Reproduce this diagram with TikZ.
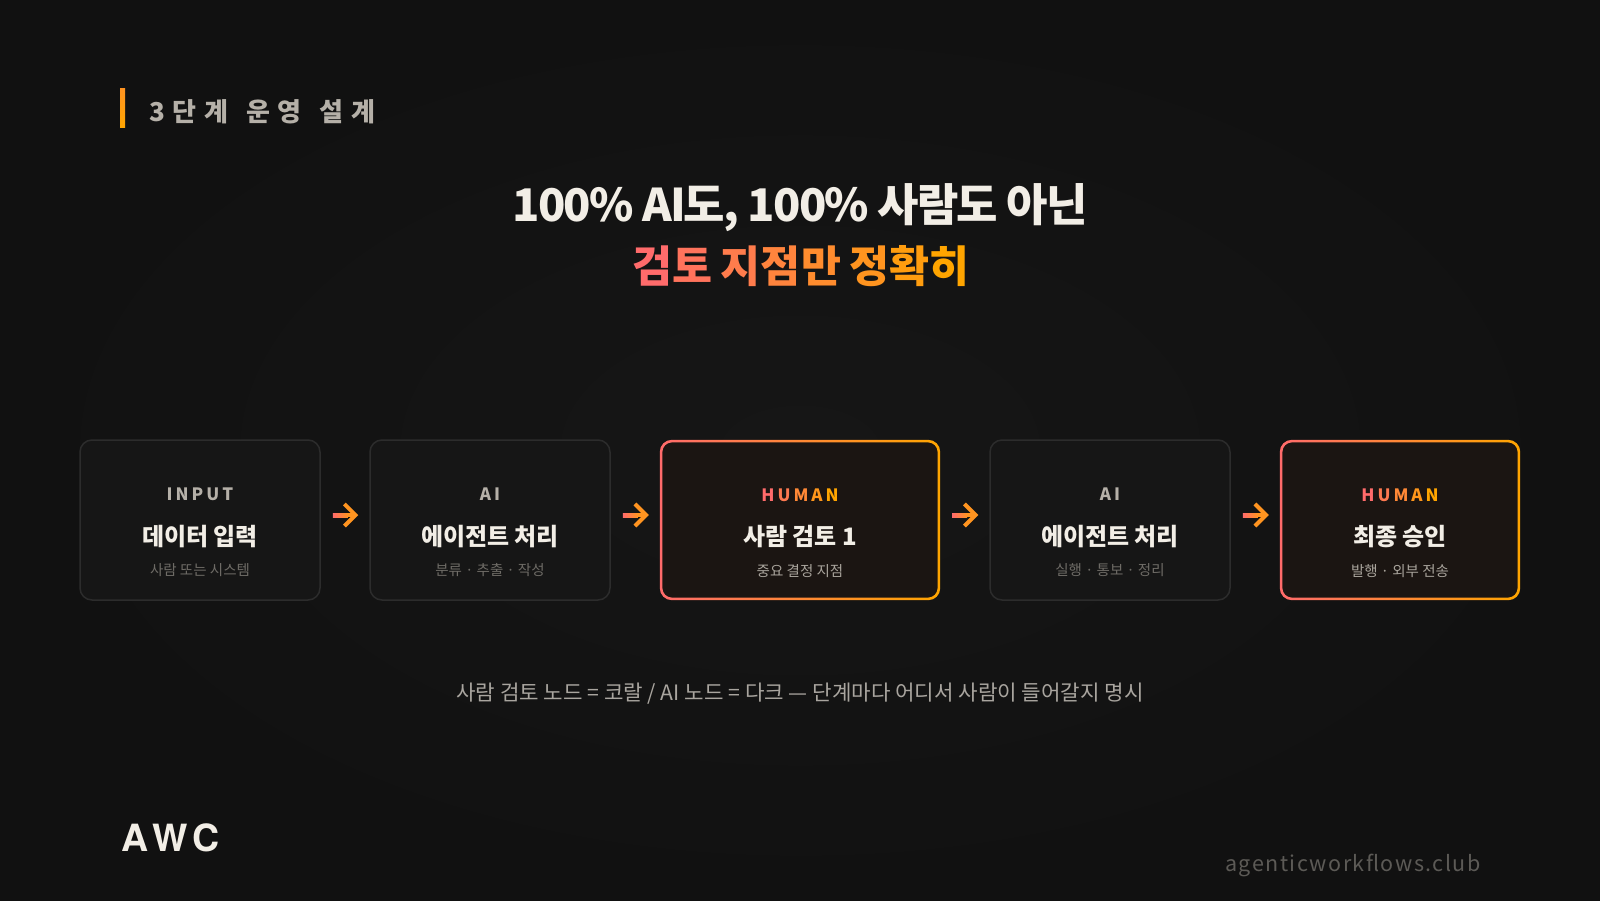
\documentclass[tikz,border=0pt]{standalone}
\usepackage{fontspec}
\setmainfont{Noto Sans CJK KR}
\newfontfamily\kr{Noto Sans CJK KR}
\newfontfamily\krtag[LetterSpace=30]{Noto Sans CJK KR}
\newfontfamily\krlab[LetterSpace=18]{Noto Sans CJK KR}
\newfontfamily\krtitle[LetterSpace=-4]{Noto Sans CJK KR}
\newfontfamily\krurl[LetterSpace=7]{Noto Sans CJK KR}
\newfontfamily\heros[LetterSpace=15]{TeX Gyre Heros}
\usetikzlibrary{arrows.meta,calc}
\definecolor{bg}{HTML}{111111}
\definecolor{bglight}{HTML}{161616}
\definecolor{coral}{HTML}{FF6B6B}
\definecolor{amber}{HTML}{FFA500}
\definecolor{ink}{HTML}{F2EEE6}
\definecolor{taggray}{HTML}{B5B0A8}
\definecolor{labgray}{HTML}{B5B0A8}
\definecolor{subdark}{HTML}{6E6B66}
\definecolor{sublight}{HTML}{A9A49C}
\definecolor{capgray}{HTML}{A9A59F}
\definecolor{urlgray}{HTML}{5C5A56}
\definecolor{aifill}{HTML}{161616}
\definecolor{aiborder}{HTML}{2C2C2C}
\definecolor{humfill}{HTML}{1B1512}
\newcommand{\fsz}[1]{\fontsize{#1pt}{#1pt}\selectfont}
\newcommand{\humanlab}{\textcolor{coral}{H}\kern3pt\textcolor{amber!25!coral}{U}\kern3pt\textcolor{amber!50!coral}{M}\kern3pt\textcolor{amber!75!coral}{A}\kern3pt\textcolor{amber}{N}}
\tikzset{
  box/.style={rectangle, rounded corners=12pt, minimum height=160pt, inner sep=0pt},
  aibox/.style={box, minimum width=240pt, fill=aifill, draw=aiborder, line width=1.5pt},
  humbox/.style={box, fill=humfill},
  lab/.style={inner sep=0pt, font=\krlab\bfseries\fsz{17}, text=labgray},
  main/.style={inner sep=0pt, font=\kr\bfseries\fsz{24}, text=ink},
  subd/.style={inner sep=0pt, font=\kr\fsz{14.5}, text=subdark},
  subl/.style={inner sep=0pt, font=\kr\fsz{14.5}, text=sublight},
  flow/.style={draw=amber!70!coral, line width=4pt, shorten <=12pt, shorten >=11pt,
    -{Straight Barb[length=11pt,width=22pt]}},
}
\begin{document}
\begin{tikzpicture}[x=1pt,y=-1pt]
\useasboundingbox (0,0) rectangle (1600,900);
\fill[bg] (0,0) rectangle (1600,900);
\shade[inner color=bglight, outer color=bg] (0,0) rectangle (1600,900);

% tag
\shade[top color=amber!70!coral, bottom color=amber] (120,88.5) rectangle (125,127.5);
\node[anchor=west, inner sep=0pt, font=\krtag\bfseries\fsz{26}, text=taggray] (tag) at (149,112) {3단계\kern4pt{} 운영\kern4pt{} 설계};

% title
\node[inner sep=0pt, font=\krtitle\bfseries\fsz{45}, text=ink] (t1) at (800,208) {100\% AI도, 100\% 사람도 아닌};
\node[inner sep=0pt, font=\krtitle\bfseries\fsz{43.5}] (t2) at (801,266) {\textcolor{coral}{검}\textcolor{amber!14!coral}{토} \textcolor{amber!29!coral}{지}\textcolor{amber!43!coral}{점}\textcolor{amber!57!coral}{만} \textcolor{amber!71!coral}{정}\textcolor{amber!86!coral}{확}\textcolor{amber}{히}};

% boxes
\node[aibox] (b1) at (200,520) {};
\node[aibox] (b2) at (490,520) {};
\node[humbox, minimum width=280pt] (b3) at (800,520) {};
\node[aibox] (b4) at (1110,520) {};
\node[humbox, minimum width=240pt] (b5) at (1400,520) {};

% gradient borders for human boxes
\foreach \b in {b3,b5}{
  \shade[left color=coral, right color=amber, even odd rule]
    [rounded corners=12pt] (\b.north west) rectangle (\b.south east)
    [rounded corners=9.5pt] ($(\b.north west)+(2.6,2.6)$) rectangle ($(\b.south east)+(-2.6,-2.6)$);
}

% box texts
\node[lab] (b1l) at ($(b1.north)+(0,55)$) {INPUT};
\node[main] (b1t) at ($(b1.north)+(0,97)$) {데이터 입력};
\node[subd] (b1s) at ($(b1.north)+(0,131)$) {사람 또는 시스템};

\node[lab] (b2l) at ($(b2.north)+(0,55)$) {AI};
\node[main] (b2t) at ($(b2.north)+(0,97)$) {에이전트 처리};
\node[subd] (b2s) at ($(b2.north)+(0,131)$) {분류 · 추출 · 작성};

\node[lab, font=\kr\bfseries\fsz{17}] (b3l) at ($(b3.north)+(0,55)$) {\humanlab};
\node[main] (b3t) at ($(b3.north)+(0,97)$) {사람 검토 1};
\node[subl] (b3s) at ($(b3.north)+(0,131)$) {중요 결정 지점};

\node[lab] (b4l) at ($(b4.north)+(0,55)$) {AI};
\node[main] (b4t) at ($(b4.north)+(0,97)$) {에이전트 처리};
\node[subd] (b4s) at ($(b4.north)+(0,131)$) {실행 · 통보 · 정리};

\node[lab, font=\kr\bfseries\fsz{17}] (b5l) at ($(b5.north)+(0,55)$) {\humanlab};
\node[main] (b5t) at ($(b5.north)+(0,97)$) {최종 승인};
\node[subl] (b5s) at ($(b5.north)+(0,131)$) {발행 · 외부 전송};

% connectors
\foreach \a/\c in {b1/b2,b2/b3,b3/b4,b4/b5}{
  \draw[flow] ($(\a.east)+(0,-5)$) -- ($(\c.west)+(0,-5)$);
  \shade[left color=coral, right color=amber!70!coral] ($(\a.east)+(12,-7)$) rectangle ($(\a.east)+(27,-3)$);
}

% caption
\node[inner sep=0pt, font=\kr\fsz{21.2}, text=capgray] (cap) at (800,694) {사람 검토 노드 = 코랄 / AI 노드 = 다크 — 단계마다 어디서 사람이 들어갈지 명시};

% footer
\node[anchor=west, inner sep=0pt, font=\heros\bfseries\fsz{37.5}, text=ink] (awc) at (121,838) {AWC};
\node[anchor=east, inner sep=0pt, font=\krurl\fsz{21.5}, text=urlgray] (url) at (1481,865) {agenticworkflows.club};
\end{tikzpicture}
\end{document}
